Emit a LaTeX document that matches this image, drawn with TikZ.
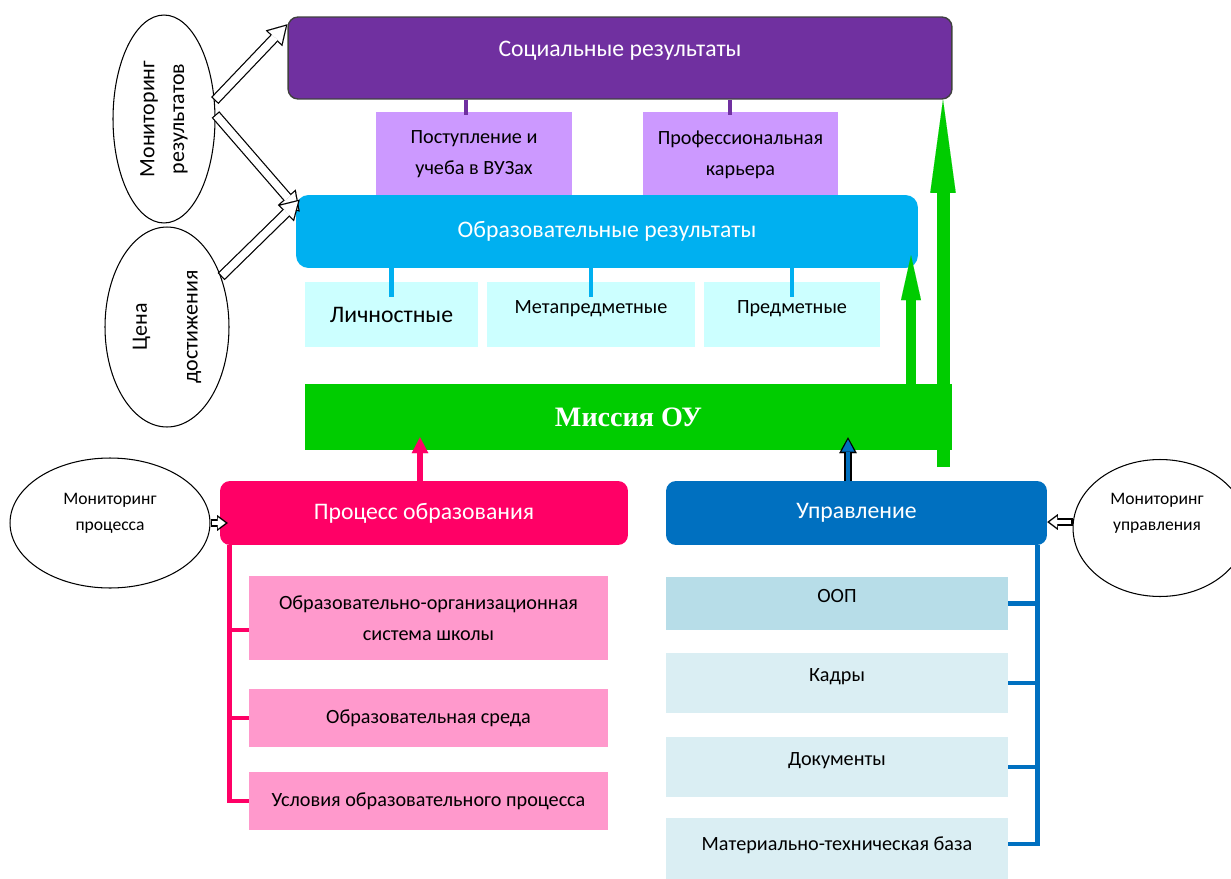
\documentclass[tikz,border=0pt]{standalone}
\usepackage{fontspec}
\setmainfont{Carlito}
\newfontfamily\missionfont{Liberation Serif}
\usetikzlibrary{arrows.meta,shapes.geometric}

\definecolor{socpurple}{HTML}{7030A0}
\definecolor{lilac}{HTML}{CC99FF}
\definecolor{edublue}{HTML}{00B0F0}
\definecolor{palecyan}{HTML}{CCFFFF}
\definecolor{missgreen}{HTML}{00CC00}
\definecolor{procpink}{HTML}{FF0066}
\definecolor{palepink}{HTML}{FF99CC}
\definecolor{manblue}{HTML}{0070C0}
\definecolor{oopblue}{HTML}{B7DDE8}
\definecolor{paleblue}{HTML}{DAEEF3}

\begin{document}
\begin{tikzpicture}[x=0.02cm, y=-0.02cm]
\tikzstyle{box}=[rectangle, align=center, inner sep=2pt]
\tikzstyle{head box}=[box, rounded corners=0.2cm, text=white, font=\fontsize{13.5}{16}\selectfont]
\tikzstyle{sub box}=[box, text=black, font=\fontsize{11.5}{17.5}\selectfont]
\tikzstyle{oval}=[ellipse, draw=black, line width=0.6pt, align=center, inner sep=0pt]
\tikzstyle{oval text}=[align=center, font=\fontsize{10}{15}\selectfont]
\tikzstyle{stub}=[line width=2.8pt]
\tikzstyle{hollow outer}=[black, line width=5.7pt, -{Triangle[length=11pt,width=13pt,line width=0.01pt]}]
\tikzstyle{hollow inner}=[white, line width=4.3pt, shorten >=1.4pt, shorten <=0.7pt, -{Triangle[length=8.9pt,width=10.5pt,line width=0.01pt]}]
\tikzstyle{small outer}=[black, line width=4.2pt, -{Triangle[length=6pt,width=9pt,line width=0.01pt]}]
\tikzstyle{small inner}=[white, line width=2.8pt, shorten >=1.3pt, shorten <=0.7pt, -{Triangle[length=4.3pt,width=6.4pt,line width=0.01pt]}]

\useasboundingbox (0,0) rectangle (1231,879);

% Social results and their parts
\node[sub box, fill=lilac, minimum width=3.92cm, minimum height=1.7cm] (vuz) at (474,154.5) {Поступление и\\учеба в ВУЗах};
\node[sub box, fill=lilac, minimum width=3.9cm, minimum height=1.7cm] (kar) at (740.5,154.5) {Профессиональная\\карьера};
\node[head box, fill=socpurple, draw=black!75, line width=0.8pt, minimum width=13.28cm, minimum height=1.64cm,
      text height=0.3cm, text depth=0.38cm] (soc) at (620,58) {Социальные результаты};
\draw[stub, socpurple] ([xshift=-0.16cm]vuz.north |- soc.south) -- ([xshift=-0.16cm, yshift=-0.06cm]vuz.north);
\draw[stub, socpurple] ([xshift=-0.21cm]kar.north |- soc.south) -- ([xshift=-0.21cm, yshift=-0.06cm]kar.north);

% Educational results
\node[head box, fill=edublue, rounded corners=0.25cm, minimum width=12.44cm, minimum height=1.46cm] (edu) at (607,231.5) {Образовательные результаты};
\node[sub box, fill=palecyan, minimum width=3.46cm, minimum height=1.3cm, font=\fontsize{13.5}{16}\selectfont] (lich) at (391.5,314.5) {Личностные};
\node[sub box, fill=palecyan, minimum width=4.16cm, minimum height=1.3cm, text depth=0.3cm] (meta) at (591,314.5) {Метапредметные};
\node[sub box, fill=palecyan, minimum width=3.52cm, minimum height=1.3cm, text depth=0.3cm] (pred) at (792,314.5) {Предметные};
\foreach \b in {lich,meta,pred}
    \draw[stub, edublue] (\b.north |- edu.south) -- ([yshift=-0.3cm]\b.north);

% Mission
\node[box, fill=missgreen, text=white, font=\missionfont\bfseries\fontsize{16}{19}\selectfont,
      minimum width=12.94cm, minimum height=1.32cm] (mis) at (628.5,417) {Миссия ОУ};

\coordinate (gbig) at (943,467);
\coordinate (gsmall) at (911,384);
\draw[missgreen, line width=7.4pt, -{Triangle[length=53pt,width=14.5pt,line width=0.01pt]}] (gbig) -- (gbig |- soc.south);
\draw[missgreen, line width=5.7pt, -{Triangle[length=25.5pt,width=11.4pt,line width=0.01pt]}] (gsmall) -- ([yshift=0.26cm]gsmall |- edu.south);

% Process and management
\node[head box, fill=procpink, minimum width=8.16cm, minimum height=1.28cm] (proc) at (424,513) {Процесс образования};
\node[head box, fill=manblue, minimum width=7.62cm, minimum height=1.28cm] (man) at (856.5,513) {Управление};

\draw[procpink, line width=3.6pt, -{Triangle[length=9pt,width=9.5pt,line width=0.01pt]}] ([xshift=-0.08cm]proc.north) -- ([xshift=-0.08cm, yshift=0.26cm]proc.north |- mis.south);
\draw[black, line width=4.4pt, -{Triangle[length=9pt,width=10pt,line width=0.01pt]}] ([xshift=-0.17cm]man.north) -- ([xshift=-0.17cm, yshift=0.26cm]man.north |- mis.south);
\draw[manblue, line width=2.8pt, shorten >=1.3pt, -{Triangle[length=6.8pt,width=7.2pt,line width=0.01pt]}] ([xshift=-0.17cm, yshift=-0.02cm]man.north) -- ([xshift=-0.17cm, yshift=0.26cm]man.north |- mis.south);

\foreach \name/\ypos/\h/\txt in {p1/618/1.68/{Образовательно-организационная\\система школы},
                                p2/718/1.16/{Образовательная среда},
                                p3/801/1.16/{Условия образовательного процесса}}
    \node[sub box, fill=palepink, minimum width=7.18cm, minimum height=\h cm] (\name) at (428.5,\ypos) {\txt};

\foreach \name/\ypos/\h/\col/\txt in {m1/603.5/1.06/oopblue/{ООП},
                                     m2/683/1.2/paleblue/{Кадры},
                                     m3/767/1.2/paleblue/{Документы},
                                     m4/851.5/1.34/paleblue/{Материально-техническая база}}
    \node[sub box, fill=\col, minimum width=6.84cm, minimum height=\h cm, text depth=0.3cm] (\name) at (837,\ypos) {\txt};

% Branch lines
\coordinate (pbus) at ([xshift=0.2cm]proc.south west);
\coordinate (mbus) at ([xshift=-0.2cm]man.south east);
\draw[stub, procpink] (pbus) |- (p3.west);
\draw[stub, procpink] ([yshift=-0.24cm]pbus |- p1.west) -- ([yshift=-0.24cm]p1.west);
\draw[stub, procpink] (pbus |- p2.west) -- (p2.west);
\draw[stub, manblue] (mbus) |- ([yshift=0.15cm]m4.east);
\foreach \b in {m1,m2,m3}
    \draw[stub, manblue] (mbus |- \b.east) -- (\b.east);

% Monitoring ovals
\node[oval, rotate=90, minimum width=4.16cm, minimum height=2.04cm, font=\fontsize{12.5}{17}\selectfont] (mres) at (164,119) {Мониторинг\\результатов};
\node[oval, rotate=90, minimum width=4cm, minimum height=2.48cm, font=\fontsize{12.5}{17}\selectfont] (cena) at (167,327) {Цена\\[12pt]достижения};
\node[oval, minimum width=4cm, minimum height=2.6cm,
      label={[oval text, yshift=0.2cm]center:Мониторинг\\процесса}] (mproc) at (110,523) {};
\node[oval, minimum width=3.48cm, minimum height=2.74cm,
      label={[oval text, yshift=0.3cm, xshift=-0.06cm]center:Мониторинг\\управления}] (mman) at (1160,528) {};

\draw[hollow outer] (mres.-70) -- ([yshift=-0.16cm]soc.north west);
\draw[hollow inner] (mres.-70) -- ([yshift=-0.16cm]soc.north west);
\draw[hollow outer] (mres.-85) -- ([xshift=0.08cm, yshift=-0.34cm]edu.north west);
\draw[hollow inner] (mres.-85) -- ([xshift=0.08cm, yshift=-0.34cm]edu.north west);
\draw[hollow outer] (cena.-47) -- ([xshift=0.08cm, yshift=-0.1cm]edu.north west);
\draw[hollow inner] (cena.-47) -- ([xshift=0.08cm, yshift=-0.1cm]edu.north west);

\draw[small outer] (mproc.east) -- ([xshift=0.16cm]mproc.east -| proc.west);
\draw[small inner] (mproc.east) -- ([xshift=0.16cm]mproc.east -| proc.west);
\draw[small outer] ([yshift=0.12cm]mman.west) -- ([yshift=0.12cm]mman.west -| man.east);
\draw[small inner] ([yshift=0.12cm]mman.west) -- ([yshift=0.12cm]mman.west -| man.east);

\end{tikzpicture}
\end{document}
